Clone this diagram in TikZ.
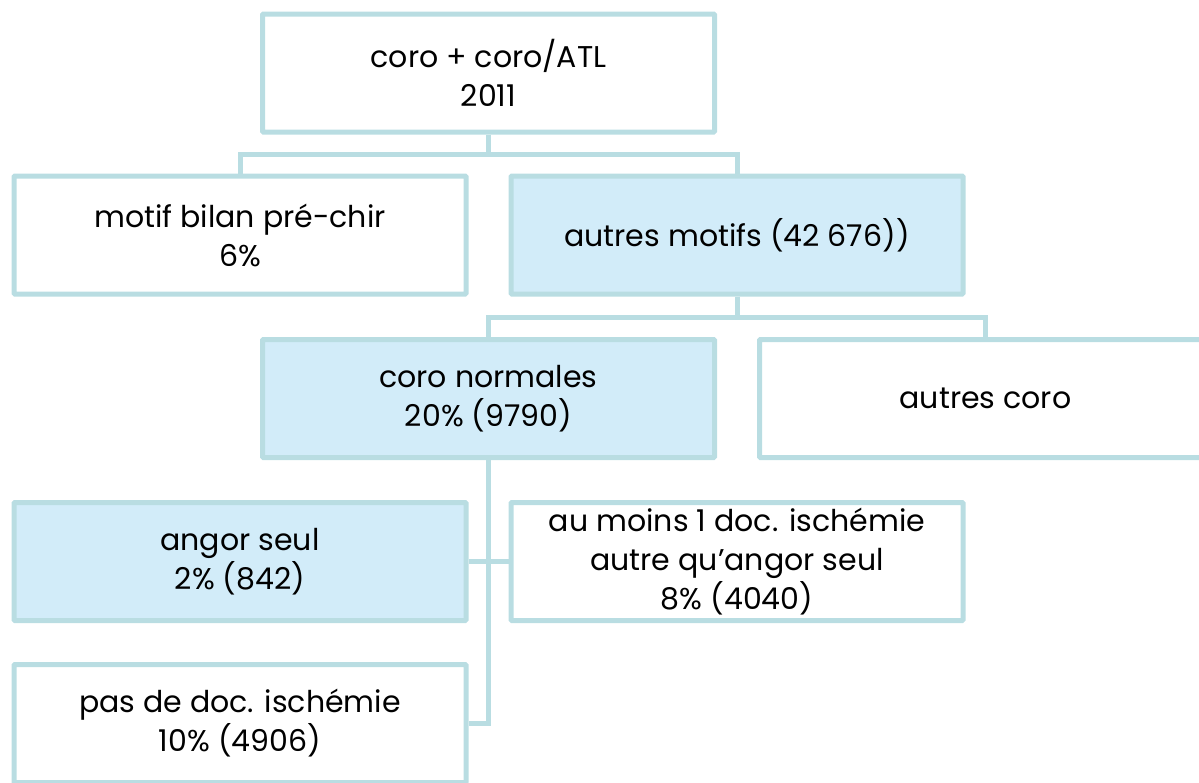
\documentclass[tikz,border=0pt]{standalone}
\usepackage{fontspec}
\setmainfont{Poppins}
\definecolor{edge}{HTML}{B9DDE2}
\definecolor{boxfill}{HTML}{D2ECF9}
\begin{document}
\begin{tikzpicture}[x=1pt,y=-1pt,
  box/.style={draw=edge, line width=5pt, rounded corners=1pt, minimum width=452pt, minimum height=118pt, align=center, inner sep=0pt, font=\fontsize{30}{39}\selectfont, text=black},
  hl/.style={box, fill=boxfill},
  wire/.style={draw=edge, line width=5pt}]
\useasboundingbox (0,0) rectangle (1199,782);
\node[box] (top) at (488.5,73) {coro + coro/ATL\\2011};
\node[box] (motif) at (240,235) {motif bilan pré-chir\\6\%};
\node[hl] (autres) at (737,235) {autres motifs (42 676))};
\node[hl] (cn) at (488.5,398.5) {coro normales\\20\% (9790)};
\node[box] (ac) at (985.5,398.5) {autres coro};
\node[hl] (angor) at (240,561.5) {angor seul\\2\% (842)};
\node[box] (aum) at (737,561.5) {au moins 1 doc. ischémie\\autre qu’angor seul\\8\% (4040)};
\node[box] (pas) at (240,723.5) {pas de doc. ischémie\\10\% (4906)};
\coordinate (h1) at (0,154);
\coordinate (h2) at (0,317);
\draw[wire] (top.south) |- (h1 -| motif.north) -- (motif.north);
\draw[wire] (top.south) |- (h1 -| autres.north) -- (autres.north);
\draw[wire] (autres.south) |- (h2 -| cn.north) -- (cn.north);
\draw[wire] (autres.south) |- (h2 -| ac.north) -- (ac.north);
\draw[wire] (angor.east) -- (aum.west);
\draw[wire] (cn.south) |- (pas.east);
\end{tikzpicture}
\end{document}
